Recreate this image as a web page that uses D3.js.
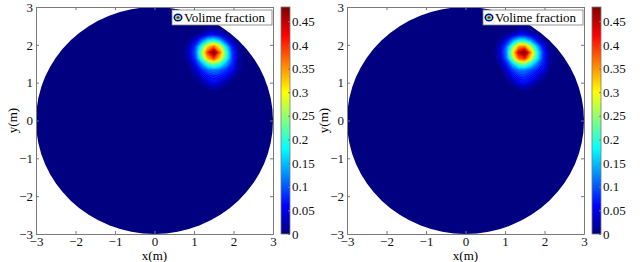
<!DOCTYPE html>
<html>
<head>
<meta charset="utf-8">
<script src="https://cdn.jsdelivr.net/npm/d3@7"></script>
<style>
  body { margin: 0; background: #fff; }
  svg, text { font-family: "Liberation Serif", "Times New Roman", serif; }
</style>
</head>
<body>
<div id="chart"></div>
<script>
// =======================
// Volume fraction contour, two panels
// =======================

const axisTicks = [-3, -2, -1, 0, 1, 2, 3];
const barTicks = [0, 0.05, 0.1, 0.15, 0.2, 0.25, 0.3, 0.35, 0.4, 0.45];
const barMax = 0.48;
const legendLabel = "Volime fraction";

// sample grid (m): columns x = 0.75 .. 2.25, rows y = 2.40 .. 0.90, step 0.15
const gridCols = [0.75, 0.9, 1.05, 1.2, 1.35, 1.5, 1.65, 1.8, 1.95, 2.1, 2.25];
const gridRows = [2.4, 2.25, 2.1, 1.95, 1.8, 1.65, 1.5, 1.35, 1.2, 1.05, 0.9];

const fracLeft = [
  [0, 0, 0, 0, 0.004, 0.006, 0.004, 0, 0, 0, 0],
  [0, 0, 0.004, 0.02, 0.045, 0.05, 0.035, 0.012, 0, 0, 0],
  [0, 0.008, 0.04, 0.1, 0.16, 0.18, 0.14, 0.07, 0.02, 0, 0],
  [0, 0.025, 0.08, 0.19, 0.3, 0.35, 0.28, 0.16, 0.06, 0.01, 0],
  [0, 0.03, 0.09, 0.23, 0.38, 0.48, 0.35, 0.2, 0.08, 0.015, 0],
  [0, 0.02, 0.08, 0.2, 0.32, 0.38, 0.3, 0.19, 0.08, 0.015, 0],
  [0, 0.008, 0.05, 0.12, 0.19, 0.22, 0.19, 0.13, 0.07, 0.012, 0],
  [0, 0, 0.025, 0.07, 0.1, 0.11, 0.1, 0.08, 0.055, 0.008, 0],
  [0, 0, 0.01, 0.04, 0.065, 0.075, 0.065, 0.05, 0.025, 0, 0],
  [0, 0, 0, 0.015, 0.04, 0.055, 0.04, 0.018, 0.005, 0, 0],
  [0, 0, 0, 0, 0.01, 0.018, 0.01, 0, 0, 0, 0]
];

const fracRight = [
  [0, 0, 0, 0, 0.005, 0.006, 0.003, 0, 0, 0, 0],
  [0, 0, 0.006, 0.025, 0.05, 0.05, 0.03, 0.01, 0, 0, 0],
  [0, 0.01, 0.05, 0.12, 0.17, 0.17, 0.12, 0.06, 0.015, 0, 0],
  [0, 0.03, 0.1, 0.22, 0.33, 0.34, 0.25, 0.14, 0.05, 0.008, 0],
  [0, 0.035, 0.11, 0.27, 0.42, 0.48, 0.33, 0.18, 0.07, 0.012, 0],
  [0, 0.025, 0.1, 0.24, 0.36, 0.39, 0.28, 0.17, 0.07, 0.012, 0],
  [0, 0.01, 0.06, 0.14, 0.21, 0.22, 0.17, 0.11, 0.06, 0.01, 0],
  [0, 0, 0.03, 0.08, 0.11, 0.11, 0.09, 0.07, 0.045, 0.006, 0],
  [0, 0, 0.012, 0.05, 0.075, 0.08, 0.065, 0.045, 0.02, 0, 0],
  [0, 0, 0.003, 0.02, 0.05, 0.06, 0.04, 0.015, 0.004, 0, 0],
  [0, 0, 0, 0, 0.014, 0.02, 0.01, 0, 0, 0, 0]
];

const panels = [
  { offset: 0, frac: fracLeft },
  { offset: 311, frac: fracRight }
];

// MATLAB jet colormap
function jet(t) {
  const c = v => Math.max(0, Math.min(1, v));
  const r = c(1.5 - Math.abs(4 * t - 3));
  const g = c(1.5 - Math.abs(4 * t - 2));
  const b = c(1.5 - Math.abs(4 * t - 1));
  return d3.rgb(r * 255, g * 255, b * 255).formatHex();
}
const color = d3.scaleSequential(jet).domain([0, barMax]);
const fmt = d3.format("");

const width = 642, height = 262;
const svg = d3.select("#chart")
  .append("svg")
    .attr("width", width)
    .attr("height", height);

// colorbar gradient
const grad = svg.append("defs").append("linearGradient")
    .attr("id", "jetGrad")
    .attr("x1", 0).attr("y1", 1).attr("x2", 0).attr("y2", 0);
d3.range(0, 1.0001, 0.0625).forEach(t => {
  grad.append("stop").attr("offset", t).attr("stop-color", jet(t));
});

const thresholds = d3.range(0.005, barMax, 0.01);
const frame = "#7a7a7a";

panels.forEach(p => {
  const left = 36 + p.offset, right = 273 + p.offset, top = 7, bottom = 234;

  const x = d3.scaleLinear().domain([-3, 3]).range([left, right]);
  const y = d3.scaleLinear().domain([-3, 3]).range([bottom, top]);

  const g = svg.append("g");

  // domain disc
  g.append("ellipse")
    .attr("cx", x(0))
    .attr("cy", y(0))
    .attr("rx", x(3) - x(0))
    .attr("ry", y(0) - y(3))
    .attr("fill", color(0));

  // filled contours
  const values = p.frac.flat();
  const contours = d3.contours()
    .size([gridCols.length, gridRows.length])
    .thresholds(thresholds)(values);

  const step = gridCols[1] - gridCols[0];
  const proj = d3.geoTransform({
    point: function(px, py) {
      this.stream.point(
        x(gridCols[0] + (px - 0.5) * step),
        y(gridRows[0] - (py - 0.5) * step)
      );
    }
  });
  const path = d3.geoPath(proj);

  g.selectAll("path.level")
    .data(contours)
    .enter()
    .append("path")
      .attr("class", "level")
      .attr("d", path)
      .attr("fill", d => color(d.value + 0.005))
      .attr("stroke", d => color(d.value + 0.03))
      .attr("stroke-width", 0.6)
      .attr("stroke-linejoin", "round");

  // axes with inward ticks on all four sides
  const styleAxis = sel => {
    sel.attr("font-family", null);
    sel.select(".domain").attr("stroke", frame);
    sel.selectAll(".tick line").attr("stroke", frame);
    sel.selectAll("text")
      .attr("fill", "#111")
      .style("font-size", "13px");
  };

  g.append("g")
    .attr("transform", `translate(0,${bottom})`)
    .call(d3.axisBottom(x).tickValues(axisTicks).tickFormat(fmt).tickSizeInner(-3).tickSizeOuter(0).tickPadding(3))
    .call(styleAxis);

  g.append("g")
    .attr("transform", `translate(0,${top})`)
    .call(d3.axisTop(x).tickValues(axisTicks).tickSizeInner(-3).tickSizeOuter(0).tickFormat(""))
    .call(styleAxis);

  g.append("g")
    .attr("transform", `translate(${left},0)`)
    .call(d3.axisLeft(y).tickValues(axisTicks).tickFormat(fmt).tickSizeInner(-3).tickSizeOuter(0).tickPadding(3))
    .call(styleAxis);

  g.append("g")
    .attr("transform", `translate(${right},0)`)
    .call(d3.axisRight(y).tickValues(axisTicks).tickSizeInner(-3).tickSizeOuter(0).tickFormat(""))
    .call(styleAxis);

  // axis labels
  g.append("text")
    .attr("x", (left + right) / 2)
    .attr("y", 260)
    .attr("text-anchor", "middle")
    .style("font-size", "13px")
    .text("x(m)");

  g.append("text")
    .attr("transform", `translate(${p.offset + 17},${(top + bottom) / 2}) rotate(-90)`)
    .attr("text-anchor", "middle")
    .style("font-size", "13px")
    .text("y(m)");

  // legend
  const lg = g.append("g").attr("transform", `translate(${left + 136},10)`);
  lg.append("rect")
    .attr("width", 100)
    .attr("height", 15)
    .attr("fill", "#fff")
    .attr("stroke", frame)
    .attr("stroke-width", 0.8);
  lg.append("ellipse").attr("cx", 6).attr("cy", 7.5).attr("rx", 4.5).attr("ry", 4).attr("fill", color(0.01));
  lg.append("ellipse").attr("cx", 6).attr("cy", 7.5).attr("rx", 3).attr("ry", 2.6).attr("fill", color(0.22));
  lg.append("ellipse").attr("cx", 6).attr("cy", 7.5).attr("rx", 1.5).attr("ry", 1.3).attr("fill", color(0.44));
  lg.append("text")
    .attr("x", 12)
    .attr("y", 12)
    .style("font-size", "13px")
    .text(legendLabel);

  // colorbar
  const cbLeft = left + 245, cbWidth = 9;
  const cy = d3.scaleLinear().domain([0, barMax]).range([bottom, top]);

  g.append("rect")
    .attr("x", cbLeft)
    .attr("y", top)
    .attr("width", cbWidth)
    .attr("height", bottom - top)
    .attr("fill", "url(#jetGrad)")
    .attr("stroke", frame)
    .attr("stroke-width", 0.8);

  g.append("g")
    .attr("transform", `translate(${cbLeft + cbWidth},0)`)
    .call(d3.axisRight(cy).tickValues(barTicks).tickSizeInner(-2).tickSizeOuter(0).tickPadding(2)
      .tickFormat(d => String(d)))
    .call(styleAxis)
    .call(s => s.select(".domain").remove());
});
</script>
</body>
</html>
